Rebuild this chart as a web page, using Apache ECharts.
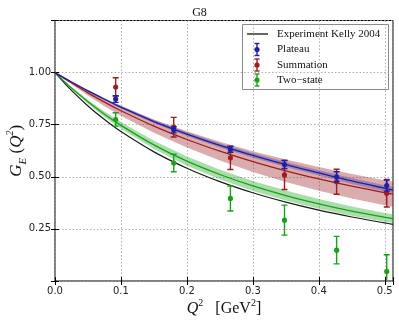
<!DOCTYPE html>
<html><head><meta charset="utf-8">
<script src="https://cdn.jsdelivr.net/npm/echarts@6/dist/echarts.min.js"></script>
<style>html,body{margin:0;padding:0;background:#fff}#c{width:399px;height:323px}</style>
</head><body><div id="c"></div>
<script>
// ---- data ----
const curveQ2   = [0, 0.025, 0.05, 0.075, 0.1, 0.15, 0.2, 0.25, 0.3, 0.35, 0.4, 0.45, 0.5, 0.5125];
const kelly     = [1, 0.9145, 0.840, 0.7746, 0.7168, 0.6196, 0.5413, 0.4771, 0.4236, 0.3786, 0.3402, 0.3072, 0.2785, 0.2717];
const plateauFit   = [1, 0.955, 0.912, 0.872, 0.834, 0.765, 0.705, 0.651, 0.603, 0.559, 0.519, 0.480, 0.445, 0.437];
const plateauHalf  = [0, 0.002, 0.004, 0.005, 0.006, 0.008, 0.009, 0.010, 0.011, 0.012, 0.013, 0.014, 0.015, 0.015];
const summationFit = [1, 0.951, 0.903, 0.858, 0.817, 0.743, 0.679, 0.623, 0.573, 0.529, 0.490, 0.455, 0.424, 0.417];
const summationHalf= [0, 0.007, 0.013, 0.019, 0.024, 0.032, 0.039, 0.045, 0.050, 0.054, 0.057, 0.059, 0.060, 0.061];
const twoStateFit  = [1, 0.926, 0.860, 0.800, 0.747, 0.653, 0.575, 0.511, 0.456, 0.410, 0.370, 0.335, 0.3055, 0.299];
const twoStateHalf = [0, 0.005, 0.009, 0.013, 0.016, 0.020, 0.022, 0.023, 0.024, 0.024, 0.023, 0.022, 0.021, 0.021];

const pointQ2      = [0.092, 0.180, 0.266, 0.348, 0.427, 0.503];
const plateauY     = [0.873, 0.726, 0.632, 0.559, 0.500, 0.458];
const plateauErr   = [0.016, 0.015, 0.014, 0.019, 0.024, 0.026];
const summationY   = [0.931, 0.738, 0.591, 0.509, 0.476, 0.421];
const summationErr = [0.044, 0.047, 0.056, 0.070, 0.060, 0.066];
const twoStateY    = [0.775, 0.566, 0.396, 0.292, 0.148, 0.046];
const twoStateErr  = [0.032, 0.042, 0.060, 0.072, 0.066, 0.080];

const xTicks = [0, 0.1, 0.2, 0.3, 0.4, 0.5];
const yTicks = [0.25, 0.5, 0.75, 1.0];
const legendNames = ['Experiment Kelly 2004', 'Plateau', 'Summation', 'Two\u2212state'];

// ---- colours ----
const C = {
  blue: '#1e1ea6', red: '#a31c1c', green: '#17a317',
  blueBand: 'rgba(40,40,170,0.30)', redBand: 'rgba(160,50,50,0.40)', greenBand: 'rgba(40,170,40,0.40)'
};

const chart = echarts.init(document.getElementById('c'), null, {renderer: 'canvas'});

function bandSeries(fit, half, color) {
  return {
    type: 'custom', clip: true, z: 2,
    data: curveQ2.map((x, i) => [x, fit[i] - half[i], fit[i] + half[i]]),
    encode: {x: 0, y: [1, 2]},
    renderItem: function (params, api) {
      if (params.dataIndex !== 0) return null;
      const pts = [];
      for (let i = 0; i < curveQ2.length; i++) pts.push(api.coord([curveQ2[i], fit[i] - half[i]]));
      for (let i = curveQ2.length - 1; i >= 0; i--) pts.push(api.coord([curveQ2[i], fit[i] + half[i]]));
      return {type: 'polygon', shape: {points: pts}, style: {fill: color, stroke: null}};
    }
  };
}
function lineSeries(vals, color, w) {
  return {
    type: 'line', z: 3, showSymbol: false, smooth: 0.35, silent: true,
    data: curveQ2.map((x, i) => [x, vals[i]]),
    lineStyle: {color: color, width: w}
  };
}
function errSeries(ys, errs, color) {
  return {
    type: 'custom', clip: true, z: 5,
    data: pointQ2.map((x, i) => [x, ys[i], errs[i]]),
    encode: {x: 0, y: 1},
    renderItem: function (params, api) {
      const x = api.value(0), y = api.value(1), e = api.value(2);
      const p = api.coord([x, y]), lo = api.coord([x, y - e]), hi = api.coord([x, y + e]);
      const st = {stroke: color, lineWidth: 1.4};
      return {type: 'group', children: [
        {type: 'line', shape: {x1: p[0], y1: hi[1], x2: p[0], y2: lo[1]}, style: st},
        {type: 'line', shape: {x1: p[0] - 3, y1: hi[1], x2: p[0] + 3, y2: hi[1]}, style: st},
        {type: 'line', shape: {x1: p[0] - 3, y1: lo[1], x2: p[0] + 3, y2: lo[1]}, style: st},
        {type: 'circle', shape: {cx: p[0], cy: p[1], r: 2.6}, style: {fill: color}}
      ]};
    }
  };
}

const serif = 'Liberation Serif';
const sans = 'DejaVu Sans';

// legend built with graphic elements
function legendGlyph(y, color) {
  return {type: 'group', children: [
    {type: 'line', shape: {x1: 257, y1: y - 6, x2: 257, y2: y + 6}, style: {stroke: color, lineWidth: 1.4}},
    {type: 'line', shape: {x1: 254.5, y1: y - 6, x2: 259.5, y2: y - 6}, style: {stroke: color, lineWidth: 1.4}},
    {type: 'line', shape: {x1: 254.5, y1: y + 6, x2: 259.5, y2: y + 6}, style: {stroke: color, lineWidth: 1.4}},
    {type: 'circle', shape: {cx: 257, cy: y, r: 2.6}, style: {fill: color}}
  ]};
}
const legRows = [34, 49.5, 65, 80];
const legendGraphic = {
  type: 'group', z: 100, children: [
    {type: 'rect', shape: {x: 242.5, y: 24.5, width: 146, height: 65}, style: {fill: '#fff', stroke: '#8a8a8a', lineWidth: 1}},
    {type: 'line', shape: {x1: 247, y1: legRows[0], x2: 268, y2: legRows[0]}, style: {stroke: '#000', lineWidth: 1.2}},
    legendGlyph(legRows[1], C.blue),
    legendGlyph(legRows[2], C.red),
    legendGlyph(legRows[3], C.green)
  ].concat(legendNames.map((n, i) => ({
    type: 'text', x: 277, y: legRows[i],
    style: {text: n, font: '11px "' + serif + '"', fill: '#111', verticalAlign: 'middle', textAlign: 'left'}
  })))
};

const fmtX = v => (xTicks.some(t => Math.abs(t - v) < 1e-9) ? v.toFixed(1) : '');
const fmtY = v => (yTicks.some(t => Math.abs(t - v) < 1e-9) ? v.toFixed(2) : '');

const commonX = {
  type: 'value', min: 0, max: 0.5125, interval: 0.1,
  axisLine: {show: false},
  axisTick: {show: true, inside: true, length: 4, lineStyle: {color: '#000'}}
};
const commonY = {
  type: 'value', min: 0, max: 1.25, interval: 0.25,
  axisLine: {show: false},
  axisTick: {show: true, inside: true, length: 4, lineStyle: {color: '#000'}}
};

chart.setOption({
  animation: false,
  backgroundColor: '#fff',
  title: {text: 'G8', left: 'center', top: 2, textStyle: {fontFamily: serif, fontSize: 12, fontWeight: 'normal', color: '#111'}},
  grid: {left: 55, right: 6, top: 20.5, bottom: 42, containLabel: false, outerBoundsMode: 'none',
         show: true, borderColor: '#000', borderWidth: 1, backgroundColor: 'transparent'},
  xAxis: [
    Object.assign({}, commonX, {
      position: 'bottom',
      axisLabel: {formatter: fmtX, fontFamily: sans, fontSize: 10, color: '#222', margin: 5},
      splitLine: {show: true, lineStyle: {color: '#9a9a9a', type: [1.5, 2], width: 0.8}},
      name: '{i|Q}{s|2}{n|   [GeV}{s|2}{n|]}', nameLocation: 'middle', nameGap: 17, nameMoveOverlap: false,
      nameTextStyle: {rich: {
        i: {fontFamily: serif, fontStyle: 'italic', fontSize: 16, color: '#111', lineHeight: 22, verticalAlign: 'middle'},
        n: {fontFamily: serif, fontSize: 16, color: '#111', lineHeight: 22, verticalAlign: 'middle'},
        s: {fontFamily: serif, fontSize: 10, color: '#111', lineHeight: 22, verticalAlign: 'top'}
      }}
    }),
    Object.assign({}, commonX, {position: 'top', axisLabel: {show: false}, splitLine: {show: false}})
  ],
  yAxis: [
    Object.assign({}, commonY, {
      position: 'left',
      axisLabel: {formatter: fmtY, fontFamily: sans, fontSize: 10, color: '#222', margin: 4},
      splitLine: {show: true, lineStyle: {color: '#9a9a9a', type: [1.5, 2], width: 0.8}},
      name: '{i|G}{b|E}{n| (}{i|Q}{s|2}{n|)}', nameLocation: 'middle', nameGap: 26, nameRotate: 90, nameMoveOverlap: false,
      nameTextStyle: {rich: {
        i: {fontFamily: serif, fontStyle: 'italic', fontSize: 17, color: '#111', lineHeight: 24, verticalAlign: 'middle'},
        n: {fontFamily: serif, fontSize: 17, color: '#111', lineHeight: 24, verticalAlign: 'middle'},
        b: {fontFamily: serif, fontStyle: 'italic', fontSize: 11, color: '#111', lineHeight: 24, verticalAlign: 'bottom'},
        s: {fontFamily: serif, fontStyle: 'italic', fontSize: 10, color: '#111', lineHeight: 24, verticalAlign: 'top'}
      }}
    }),
    Object.assign({}, commonY, {position: 'right', axisLabel: {show: false}, splitLine: {show: false}})
  ],
  series: [
    bandSeries(summationFit, summationHalf, C.redBand),
    bandSeries(plateauFit, plateauHalf, C.blueBand),
    bandSeries(twoStateFit, twoStateHalf, C.greenBand),
    lineSeries(kelly, '#1a1a1a', 1.2),
    lineSeries(twoStateFit, C.green, 1.3),
    lineSeries(summationFit, C.red, 1.3),
    lineSeries(plateauFit, C.blue, 1.3),
    errSeries(twoStateY, twoStateErr, C.green),
    errSeries(summationY, summationErr, C.red),
    errSeries(plateauY, plateauErr, C.blue)
  ],
  graphic: [legendGraphic]
});
</script>
</body></html>
